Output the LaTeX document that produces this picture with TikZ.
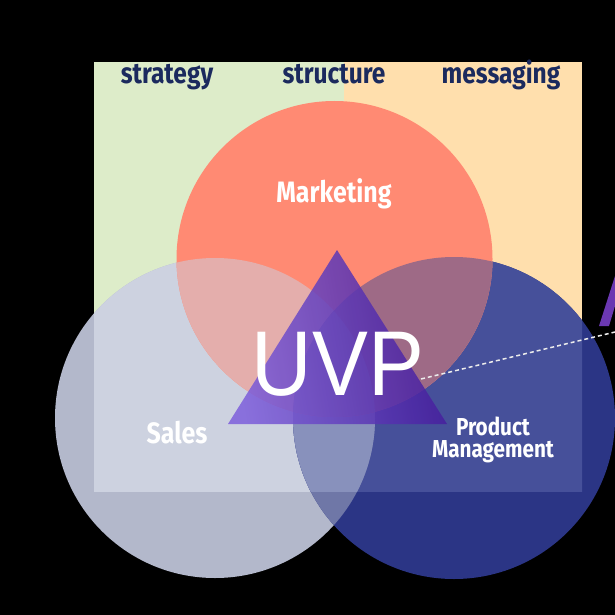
\documentclass[tikz,border=0pt]{standalone}
\usepackage{fontspec}
\setmainfont{Fira Sans}
\newfontfamily\labfont[FakeStretch=0.845]{Fira Sans}
\newfontfamily\uvpfont{Liberation Sans}
\definecolor{bgblack}{HTML}{000000}
\definecolor{rgreen}{HTML}{DDECC9}
\definecolor{rpeach}{HTML}{FFDFAD}
\definecolor{cred}{HTML}{FF8A73}
\definecolor{salesout}{HTML}{B3B8CB}
\definecolor{salesin}{HTML}{CDD2E0}
\definecolor{blueout}{HTML}{2B3585}
\definecolor{bluein}{HTML}{46509A}
\definecolor{sbout}{HTML}{6F77A7}
\definecolor{sbin}{HTML}{8891BC}
\definecolor{rs}{HTML}{E4AEAC}
\definecolor{rb}{HTML}{9E6A86}
\definecolor{rsb}{HTML}{9A86A8}
\definecolor{navy}{HTML}{1B2A5E}
\definecolor{triL}{HTML}{7E5FDC}
\definecolor{triR}{HTML}{431A99}
\definecolor{ybar}{HTML}{F5B800}
\definecolor{sidepurple}{HTML}{6B38B2}
\tikzset{
  toplabel/.style={font=\labfont\bfseries\fontsize{29}{31}\selectfont, text=navy, inner sep=0pt, anchor=base},
  circlabel/.style={font=\labfont\bfseries\fontsize{29.5}{31}\selectfont, text=white, inner sep=0pt, anchor=base},
  pmlabel/.style={font=\labfont\bfseries\fontsize{24.5}{26}\selectfont, text=white, inner sep=0pt, anchor=base},
  uvplabel/.style={font=\uvpfont\fontsize{92}{92}\selectfont, text=white, inner sep=0pt},
  dashline/.style={draw=white!85!gray, line width=1.5pt, dash pattern=on 4pt off 3pt},
}
\def\salesC{(215,418) circle[radius=160]}
\def\blueC{(454,418) circle[radius=161]}
\def\redC{(334.5,259) circle[radius=158]}
\def\rectR{(94,62) rectangle (582,491)}
\begin{document}
\begin{tikzpicture}[x=1pt,y=-1pt]
\fill[bgblack] (0,0) rectangle (615,615);
\useasboundingbox (0,0) rectangle (615,615);
% background rectangle
\fill[rgreen] (94,62) rectangle (344,491);
\fill[rpeach] (344,62) rectangle (582,491);
% yellow bar
\fill[ybar] (0,98) rectangle (5,128);
% side purple stroke
\fill[sidepurple] (599,326) -- (609,326) -- (615,306) -- (615,276) -- cycle;
% Sales circle
\fill[salesout] \salesC;
\begin{scope}\clip \rectR; \fill[salesin] \salesC; \end{scope}
% Blue circle
\fill[blueout] \blueC;
\begin{scope}\clip \rectR; \fill[bluein] \blueC; \end{scope}
% Sales & Blue
\begin{scope}\clip \salesC; \fill[sbout] \blueC;
  \clip \rectR; \fill[sbin] \blueC; \end{scope}
% Red circle
\fill[cred] \redC;
\begin{scope}\clip \redC; \fill[rs] \salesC; \end{scope}
\begin{scope}\clip \redC; \fill[rb] \blueC; \end{scope}
\begin{scope}\clip \redC; \clip \salesC; \fill[rsb] \blueC; \end{scope}
% triangle
\begin{scope}[opacity=0.85, transparency group]
\shade[left color=triL, right color=triR, shading angle=100] (337,250) -- (447,424) -- (228,424) -- cycle;
\end{scope}
% texts
\node[toplabel] (strat) at (167,84) {strategy};
\node[toplabel] (struct) at (334,84) {structure};
\node[toplabel] (mess) at (501,84) {messaging};
\node[circlabel] (mkt) at (334,202) {Marketing};
\node[circlabel] (sales) at (177,443) {Sales};
\node[pmlabel] (pmA) at (493,435) {Product};
\node[pmlabel] (pmB) at (493,457) {Management};
\node[uvplabel] (uvp) at (338,364) {\scalebox{0.91}[1]{UVP}};
% dashed line
\coordinate (dA) at (421,379);
\coordinate (dB) at (615,332);
\draw[dashline] (dA) -- (dB);
\end{tikzpicture}
\end{document}
